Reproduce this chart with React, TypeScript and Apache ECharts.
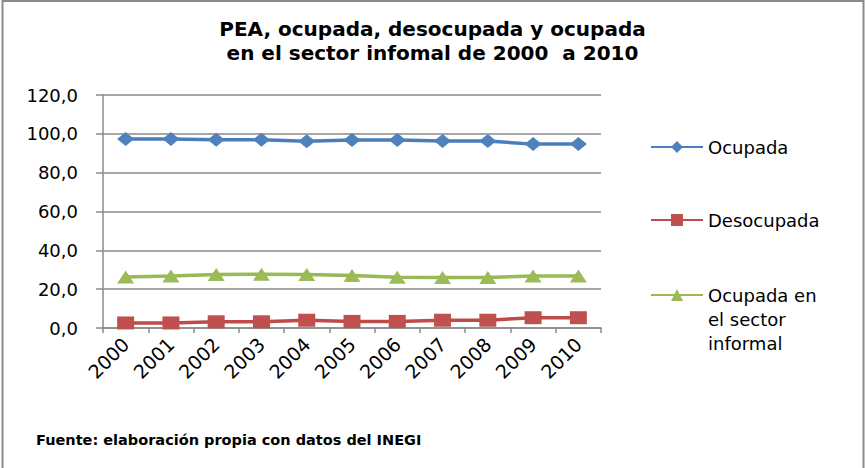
import React, { useEffect, useRef } from "react";
import * as echarts from "echarts";

const years = ["2000", "2001", "2002", "2003", "2004", "2005", "2006", "2007", "2008", "2009", "2010"];
const ocupada = [97.4, 97.4, 97.0, 97.0, 96.2, 96.8, 96.8, 96.3, 96.3, 94.7, 94.7];
const desocupada = [2.6, 2.6, 3.2, 3.2, 4.0, 3.4, 3.4, 4.0, 4.0, 5.3, 5.3];
const informal = [26.3, 26.8, 27.6, 27.7, 27.6, 27.1, 26.1, 26.0, 26.0, 26.8, 26.8];
const yTicks = { min: 0, max: 120, interval: 20 };

const titleText = "PEA, ocupada, desocupada y ocupada\nen el sector infomal de 2000  a 2010";
const sourceText = "Fuente: elaboración propia con datos del INEGI";
const names = ["Ocupada", "Desocupada", "Ocupada en el sector informal"];

const FONT = "DejaVu Sans";
const GRAY = "#8a8a8a";

export default function App() {
  const ref = useRef<HTMLDivElement>(null);
  useEffect(() => {
    const chart = echarts.init(ref.current!, null, { renderer: "svg" });
    chart.setOption({
      animation: false,
      backgroundColor: "#ffffff",
      title: [
        {
          text: titleText,
          left: "center",
          top: 17,
          padding: 0,
          textStyle: { fontFamily: FONT, fontSize: 20, fontWeight: "bold", color: "#000", lineHeight: 24 },
        },
        {
          text: sourceText,
          left: 36,
          top: 432,
          padding: 0,
          textStyle: { fontFamily: FONT, fontSize: 14.5, fontWeight: "bold", color: "#000" },
        },
      ],
      legend: [
        {
          orient: "vertical",
          left: 650,
          top: 135,
          padding: 0,
          itemWidth: 52,
          itemHeight: 15,
          itemGap: 49,
          data: [names[0], names[1]],
          textStyle: { fontFamily: FONT, fontSize: 18, color: "#000", lineHeight: 24 },
        },
        {
          orient: "vertical",
          left: 650,
          top: 235,
          padding: 0,
          itemWidth: 52,
          itemHeight: 15,
          data: [names[2]],
          formatter: () => "\n\nOcupada en\nel sector\ninformal",
          textStyle: { fontFamily: FONT, fontSize: 18, color: "#000", lineHeight: 24 },
        },
      ],
      grid: { left: 103, right: 264, top: 95, bottom: 140, containLabel: false },
      xAxis: {
        type: "category",
        data: years,
        boundaryGap: true,
        axisLine: { lineStyle: { color: GRAY, width: 1.5 } },
        axisTick: { show: true, alignWithLabel: false, length: 5, lineStyle: { color: GRAY, width: 1.5 } },
        axisLabel: { rotate: 45, margin: 13, fontFamily: FONT, fontSize: 19, color: "#000", interval: 0 },
      },
      yAxis: {
        type: "value",
        min: yTicks.min,
        max: yTicks.max,
        interval: yTicks.interval,
        axisLine: { show: true, lineStyle: { color: GRAY, width: 1.5 } },
        axisTick: { show: true, length: 7, lineStyle: { color: GRAY, width: 1.5 } },
        splitLine: { lineStyle: { color: GRAY, width: 1.5 } },
        axisLabel: {
          margin: 25,
          fontFamily: FONT,
          fontSize: 18,
          color: "#000",
          formatter: (v: number) => v.toFixed(1).replace(".", ","),
        },
      },
      series: [
        {
          name: names[0],
          type: "line",
          data: ocupada,
          symbol: "diamond",
          symbolSize: [17, 14],
          showAllSymbol: true,
          lineStyle: { color: "#4A7EBB", width: 3.5 },
          itemStyle: { color: "#4F81BD" },
        },
        {
          name: names[1],
          type: "line",
          data: desocupada,
          symbol: "rect",
          symbolSize: [17, 13],
          showAllSymbol: true,
          lineStyle: { color: "#BE4B48", width: 3.5 },
          itemStyle: { color: "#C0504D" },
        },
        {
          name: names[2],
          type: "line",
          data: informal,
          symbol: "triangle",
          symbolSize: [17, 13],
          showAllSymbol: true,
          lineStyle: { color: "#98B954", width: 3.5 },
          itemStyle: { color: "#9BBB59" },
        },
      ],
      graphic: [
        {
          type: "rect",
          shape: { x: 2.5, y: 1, width: 861, height: 480 },
          style: { fill: "none", stroke: GRAY, lineWidth: 2 },
          silent: true,
        },
      ],
    });
    return () => chart.dispose();
  }, []);
  return (
    <div
      ref={ref}
      style={{ position: "fixed", left: 0, top: 0, width: 865, height: 468 }}
    />
  );
}
